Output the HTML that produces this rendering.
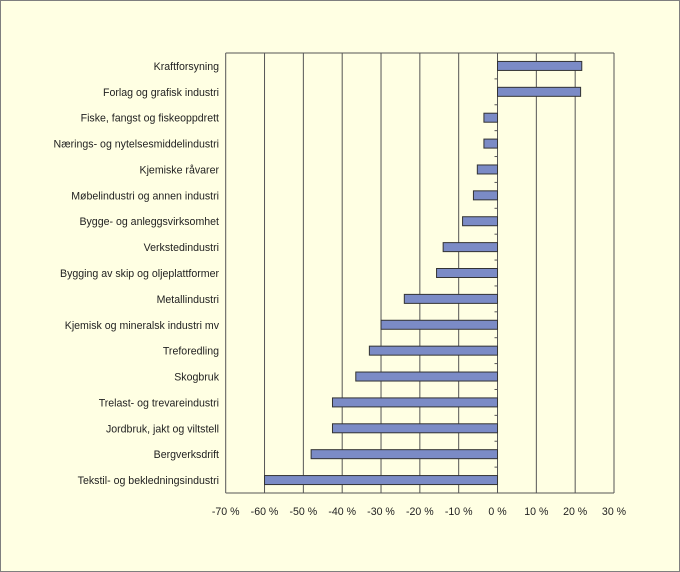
<!DOCTYPE html>
<html><head><meta charset="utf-8"><style>
body{margin:0;background:#fff;}
svg{display:block;font-family:"Liberation Sans",Arial,sans-serif;}
</style></head><body>
<svg id="chart" width="680" height="572">
<rect x="0.5" y="0.5" width="679" height="571" fill="#ffffe3" stroke="#7f7f7f"/>
<g id="grid"></g><g id="bars"></g><g id="labels"></g><g id="ticks"></g>
</svg>
<script>
const categories=["Kraftforsyning","Forlag og grafisk industri","Fiske, fangst og fiskeoppdrett","Nærings- og nytelsesmiddelindustri","Kjemiske råvarer","Møbelindustri og annen industri","Bygge- og anleggsvirksomhet","Verkstedindustri","Bygging av skip og oljeplattformer","Metallindustri","Kjemisk og mineralsk industri mv","Treforedling","Skogbruk","Trelast- og trevareindustri","Jordbruk, jakt og viltstell","Bergverksdrift","Tekstil- og bekledningsindustri"];
const values=[21.7,21.4,-3.5,-3.5,-5.2,-6.2,-9,-14,-15.7,-24,-30,-33,-36.5,-42.5,-42.5,-48,-60];
const tickValues=[-70,-60,-50,-40,-30,-20,-10,0,10,20,30];
const tickLabels=["-70 %","-60 %","-50 %","-40 %","-30 %","-20 %","-10 %","0 %","10 %","20 %","30 %"];
const NS="http://www.w3.org/2000/svg";
const L=225.7,R=614,T=53,B=493;
const xs=v=>L+(v+70)/100*(R-L);
const band=(B-T)/categories.length;
const yc=i=>T+band*(i+0.5);
function mk(tag,attrs,parent){const e=document.createElementNS(NS,tag);for(const k in attrs)e.setAttribute(k,attrs[k]);document.getElementById(parent).appendChild(e);return e;}
tickValues.forEach((v,i)=>{
 const l=mk('line',{x1:xs(v),x2:xs(v),y1:T,y2:B,stroke:'#555','stroke-width':1},'grid');
 
 
 const t=mk('text',{x:xs(v),y:B+22,'text-anchor':'middle','font-size':10.6,fill:'#222'},'ticks');
 t.textContent=tickLabels[i];
 
 
});
const topBorder=mk('line',{x1:L,x2:R,y1:T,y2:T,stroke:'#555'},'grid');


const ax=mk('line',{x1:L,x2:R,y1:B,y2:B,stroke:'#555'},'grid');


for(let i=1;i<categories.length;i++){
 const tk=mk('line',{x1:xs(0)-3,x2:xs(0),y1:T+band*i,y2:T+band*i,stroke:'#555'},'grid');
 
 
}
categories.forEach((c,i)=>{
 const v=values[i];const x0=xs(Math.min(0,v)),x1=xs(Math.max(0,v));
 const r=mk('rect',{x:x0,y:yc(i)-4.5,width:x1-x0,height:9,fill:'#7b8bc6',stroke:'#333','stroke-width':1},'bars');
 
 
 const t=mk('text',{x:219,y:yc(i)+4,'text-anchor':'end','font-size':10.6,fill:'#222'},'labels');
 t.textContent=c;
 
 
});
</script>
</body></html>
